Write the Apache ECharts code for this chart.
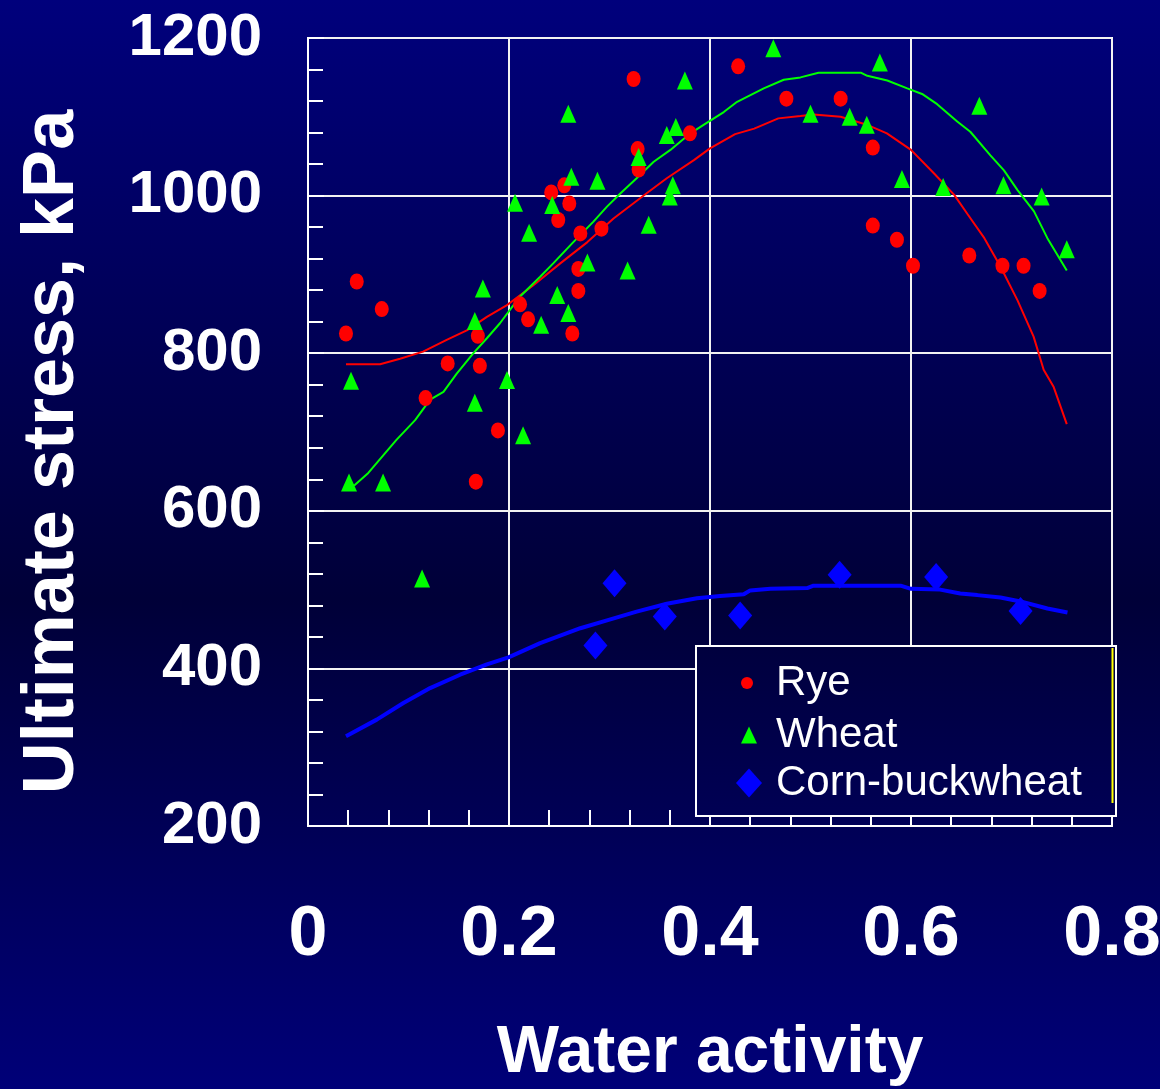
<!DOCTYPE html>
<html><head><meta charset="utf-8">
<script src="https://cdn.jsdelivr.net/npm/echarts@6/dist/echarts.min.js"></script>
<style>html,body{margin:0;padding:0;background:#000050;}#c{width:1160px;height:1089px;}</style>
</head><body><div id="c"></div>
<script>
// ---- data ----
const xTickValues = [0, 0.2, 0.4, 0.6, 0.8];
const yTickValues = [200, 400, 600, 800, 1000, 1200];

const ryeX = [0.324,0.380,0.328,0.329,0.255,0.242,0.260,0.249,0.271,0.292,0.269,0.269,0.263,0.211,0.219,0.169,0.0485,0.0734,0.0378,0.139,0.171,0.117,0.189,0.167,0.428,0.476,0.530,0.562,0.562,0.586,0.602,0.658,0.691,0.712,0.728];
const ryeY = [1148,1079,1059,1033,1013,1004,990,969,952,958,907,879,825,862,843,822,891,856,825,787,784,743,702,637,1164,1123,1123,1061,962,944,911,924,911,911,879];

const wheatX = [0.375,0.259,0.366,0.357,0.329,0.262,0.288,0.363,0.360,0.206,0.243,0.220,0.339,0.278,0.318,0.174,0.248,0.259,0.232,0.166,0.0428,0.198,0.166,0.214,0.0408,0.0747,0.1135,0.463,0.569,0.500,0.539,0.556,0.591,0.632,0.668,0.692,0.730,0.755];
const wheatY = [1146,1104,1087,1077,1049,1024,1019,1013,999,991,988,953,963,915,905,882,874,851,836,841,765,766,737,696,636,636,514,1187,1169,1104,1100,1090,1021,1011,1114,1013,999,932];

const cornX = [0.305,0.355,0.286,0.430,0.529,0.625,0.709];
const cornY = [508,466,429,467,519,516,473];

const ryeFitX = [0.0378,0.0717,0.0916,0.1145,0.138,0.158,0.178,0.198,0.224,0.251,0.278,0.304,0.337,0.357,0.384,0.400,0.425,0.444,0.468,0.490,0.503,0.530,0.556,0.576,0.600,0.623,0.643,0.656,0.673,0.689,0.706,0.722,0.732,0.742,0.755];
const ryeFitY = [786,786,793,802,817,829,846,861,886,914,941,971,1003,1022,1045,1060,1078,1085,1098,1101,1103,1100,1090,1079,1058,1028,1001,977,946,910,867,821,779,757,710];

const wheatFitX = [0.0398,0.0468,0.060,0.088,0.1066,0.1215,0.1348,0.148,0.1646,0.178,0.191,0.211,0.231,0.244,0.264,0.284,0.2975,0.311,0.327,0.344,0.3606,0.3805,0.394,0.4137,0.427,0.4535,0.4734,0.490,0.508,0.550,0.5565,0.5764,0.5963,0.611,0.626,0.646,0.659,0.679,0.6925,0.706,0.7224,0.7357,0.755];
const wheatFitY = [629,633,648,690,715,741,751,774,800,819,838,872,897,914,941,967,986,1003,1022,1043,1058,1079,1090,1106,1119,1136,1147,1150,1156,1156,1152,1146,1136,1129,1116,1094,1081,1051,1032,1007,980,946,905];

const cornFitX = [0.0378,0.0684,0.0949,0.1215,0.1514,0.178,0.1995,0.231,0.271,0.2975,0.327,0.357,0.387,0.410,0.4336,0.440,0.460,0.4967,0.503,0.5896,0.600,0.629,0.649,0.666,0.689,0.709,0.7357,0.7557];
const cornFitY = [314,335,356,375,392,405,414,432,451,461,472,482,489,492,494,499,501,502,505,505,501,500,495,493,490,485,476,471];

const seriesNames = ['Rye', 'Wheat', 'Corn-buckwheat'];
const xAxisTitle = 'Water activity';
const yAxisTitle = 'Ultimate stress, kPa';

// ---- helpers ----
const zip = (xs, ys) => xs.map((x, i) => [x, ys[i]]);

const bg = {
  type: 'linear', x: 0, y: 0, x2: 0, y2: 1,
  colorStops: [
    { offset: 0, color: '#00007c' },
    { offset: 0.55, color: '#000038' },
    { offset: 1, color: '#000078' }
  ]
};

const sans = "'Liberation Sans',Arial,sans-serif";

const chart = echarts.init(document.getElementById('c'), null, { renderer: 'canvas' });

const legendBase = {
  orient: 'vertical', padding: 0, selectedMode: false, z: 6,
  textStyle: { color: '#ffffff', fontSize: 42, fontFamily: sans }
};

chart.setOption({
  animation: false,
  backgroundColor: bg,
  grid: {
    left: 308, top: 38, width: 804, height: 788,
    show: true, borderColor: '#ffffff', borderWidth: 2, backgroundColor: 'transparent',
    containLabel: false, outerBoundsMode: 'none'
  },
  xAxis: {
    type: 'value', min: xTickValues[0], max: xTickValues[xTickValues.length - 1], interval: 0.2,
    name: xAxisTitle, nameLocation: 'middle', nameGap: 195,
    nameTextStyle: { color: '#ffffff', fontSize: 66, fontWeight: 'bold', fontFamily: sans },
    axisLine: { show: true, lineStyle: { color: '#ffffff', width: 2 } },
    axisTick: { show: true, inside: true, length: 16, lineStyle: { color: '#ffffff', width: 2 } },
    minorTick: { show: true, splitNumber: 5, length: 16, lineStyle: { color: '#ffffff', width: 2 } },
    axisLabel: {
      color: '#ffffff', fontSize: 70, fontWeight: 'bold', fontFamily: sans, margin: 75,
      formatter: v => (xTickValues.indexOf(v) >= 0 ? String(v) : '')
    },
    splitLine: { show: true, lineStyle: { color: '#f2f2f2', width: 2 } }
  },
  yAxis: {
    type: 'value', min: yTickValues[0], max: yTickValues[yTickValues.length - 1], interval: 200,
    name: yAxisTitle, nameLocation: 'middle', nameGap: 219,
    nameTextStyle: { color: '#ffffff', fontSize: 72, fontWeight: 'bold', fontFamily: sans, padding: [0, 40, 0, 0] },
    axisLine: { show: true, lineStyle: { color: '#ffffff', width: 2 } },
    axisTick: { show: true, inside: true, length: 16, lineStyle: { color: '#ffffff', width: 2 } },
    minorTick: { show: true, splitNumber: 5, length: 15, lineStyle: { color: '#ffffff', width: 2 } },
    axisLabel: {
      color: '#ffffff', fontSize: 60, fontWeight: 'bold', fontFamily: sans, margin: 46,
      padding: [6, 0, 0, 0],
      formatter: v => String(v)
    },
    splitLine: { show: true, lineStyle: { color: '#f2f2f2', width: 2 } }
  },
  legend: [
    Object.assign({}, legendBase, {
      data: [{ name: seriesNames[0], icon: 'circle' }], left: 741, top: 662,
      itemWidth: 12, itemHeight: 16,
      textStyle: Object.assign({}, legendBase.textStyle, { padding: [0, 0, 0, 18] })
    }),
    Object.assign({}, legendBase, {
      data: [{ name: seriesNames[1], icon: 'triangle' }], left: 741, top: 714,
      itemWidth: 16, itemHeight: 17,
      textStyle: Object.assign({}, legendBase.textStyle, { padding: [0, 0, 0, 14] })
    }),
    Object.assign({}, legendBase, {
      data: [{ name: seriesNames[2], icon: 'diamond' }], left: 736, top: 762,
      itemWidth: 26, itemHeight: 29,
      textStyle: Object.assign({}, legendBase.textStyle, { padding: [0, 0, 0, 9] })
    })
  ],
  graphic: [
    {
      type: 'rect', z: 3, silent: true,
      shape: { x: 696, y: 646, width: 420, height: 170 },
      style: {
        fill: { type: 'linear', x: 0, y: 0, x2: 0, y2: 1, colorStops: [
          { offset: 0, color: '#00003e' }, { offset: 1, color: '#000054' } ] },
        stroke: '#ffffff', lineWidth: 2
      }
    },
    {
      type: 'line', z: 3, silent: true,
      shape: { x1: 1112.5, y1: 648, x2: 1112.5, y2: 803 },
      style: { stroke: '#ffff00', lineWidth: 2 }
    }
  ],
  series: [
    { name: 'Rye fit', type: 'line', data: zip(ryeFitX, ryeFitY), showSymbol: false, symbol: 'none',
      lineStyle: { color: '#ff0000', width: 2 }, itemStyle: { color: '#ff0000' }, z: 2 },
    { name: 'Wheat fit', type: 'line', data: zip(wheatFitX, wheatFitY), showSymbol: false, symbol: 'none',
      lineStyle: { color: '#00ff00', width: 2 }, itemStyle: { color: '#00ff00' }, z: 2 },
    { name: 'Corn-buckwheat fit', type: 'line', data: zip(cornFitX, cornFitY), showSymbol: false, symbol: 'none',
      lineStyle: { color: '#0000ff', width: 4 }, itemStyle: { color: '#0000ff' }, z: 2 },
    { name: seriesNames[0], type: 'scatter', data: zip(ryeX, ryeY), symbol: 'circle', symbolSize: [14, 16],
      symbolKeepAspect: false, itemStyle: { color: '#ff0000', opacity: 1 }, z: 2 },
    { name: seriesNames[1], type: 'scatter', data: zip(wheatX, wheatY), symbol: 'triangle', symbolSize: [16, 18],
      symbolKeepAspect: false, itemStyle: { color: '#00ff00', opacity: 1 }, z: 2 },
    { name: seriesNames[2], type: 'scatter', data: zip(cornX, cornY), symbol: 'diamond', symbolSize: [24, 28],
      symbolKeepAspect: false, itemStyle: { color: '#0000ff', opacity: 1 }, z: 2 }
  ]
});
</script>
</body></html>
